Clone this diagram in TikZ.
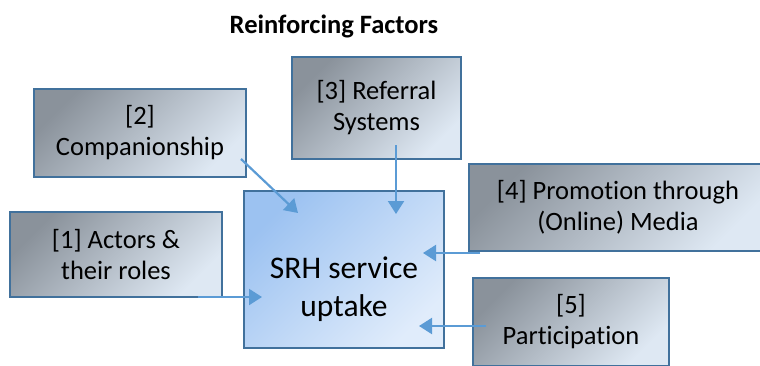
\documentclass[tikz,border=0pt]{standalone}
\usepackage{fontspec}
\setmainfont{Carlito}[Ligatures=CommonOff]
\usetikzlibrary{arrows.meta,calc}

\definecolor{edgeblue}{HTML}{41719C}
\definecolor{arrowblue}{HTML}{5B9BD5}
\definecolor{greydark}{HTML}{8A929B}
\definecolor{greylight}{HTML}{DEE8F3}
\definecolor{coredark}{HTML}{9CC2F1}
\definecolor{corelight}{HTML}{E0ECFB}

\tikzset{
  panel/.style={draw=edgeblue, line width=2.2pt, inner sep=0pt, outer sep=0pt,
    align=center},
  factor/.style={panel, top color=greydark, bottom color=greylight,
    shading angle=45, font=\fontsize{26.5}{31}\selectfont},
  core/.style={panel, top color=coredark, bottom color=corelight,
    shading angle=45},
  corelabel/.style={align=center, font=\fontsize{31.5}{38}\selectfont},
  link/.style={draw=arrowblue, line width=2.2pt,
    -{Triangle[width=16pt,length=13pt]}},
}

\begin{document}
\begin{tikzpicture}[x=1pt, y=-1pt]
  \useasboundingbox (0,0) rectangle (760,365);
  \clip (0,0) rectangle (760,365);

  \node[font=\bfseries\fontsize{26.5}{30}\selectfont] (title) at (334,26) {Reinforcing Factors};

  \node[factor, minimum width=212pt, minimum height=88pt] (f2) at (140,133)
    {[2]\\Companionship};
  \node[factor, minimum width=169pt, minimum height=102pt] (f3) at (376.5,108)
    {[3] Referral\\Systems};
  \node[factor, minimum width=212pt, minimum height=85pt] (f1) at (116,254.5)
    {[1] Actors \&\\their roles};
  \node[factor, minimum width=298pt, minimum height=87pt] (f4) at (618,207.5)
    {[4] Promotion through\\(Online) Media};
  \node[factor, minimum width=196pt, minimum height=88pt] (f5) at (571,322)
    {[5]\\Participation};

  \node[core, minimum width=200pt, minimum height=157pt] (srh) at (344,269.5) {};
  \node[corelabel] (srhtext) at ($(srh.center)+(0,20)$) {SRH service\\uptake};

  \draw[link] ($(f2.south east)+(-5,-18)$) -- ($(srh.north west)+(54,22)$);
  \draw[link] ($(f3.south)+(19.5,-14)$) -- ($(srh.north)+(52,23)$);
  \draw[link] ($(f4.south west)+(11,2)$) -- ($(srh.east)+(-21,-16.5)$);
  \draw[link] ($(f5.west)+(13,4)$) -- ($(srh.east)+(-25,56.5)$);
  \draw[link] ($(f1.south east)+(-24,0)$) -- ($(srh.west)+(18,27.5)$);
\end{tikzpicture}
\end{document}
